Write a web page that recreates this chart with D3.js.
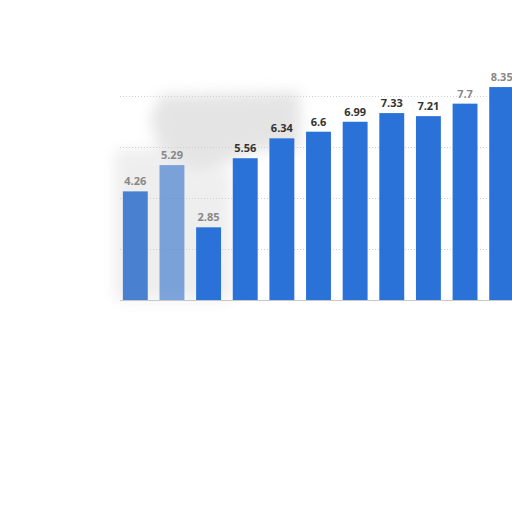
<!DOCTYPE html>
<meta charset="utf-8">
<script src="https://d3js.org/d3.v7.min.js"></script>
<style>
  body { margin: 0; background: #fff; }
</style>
<body>
<div id="chart"></div>
<script>
  // data (categories are not visible in the crop)
  var categories = ["2010", "2011", "2012", "2013", "2014", "2015", "2016", "2017", "2018", "2019", "2020"];
  var values = [4.26, 5.29, 2.85, 5.56, 6.34, 6.6, 6.99, 7.33, 7.21, 7.7, 8.35];
  var labels = ["4.26", "5.29", "2.85", "5.56", "6.34", "6.6", "6.99", "7.33", "7.21", "7.7", "8.35"];
  var gridTicks = [2, 4, 6, 8];

  var W = 512, H = 512;

  var svg = d3.select("#chart")
    .append("svg")
    .attr("width", W)
    .attr("height", H);

  var defs = svg.append("defs");
  defs.append("filter").attr("id", "blur")
    .attr("x", "-50%").attr("y", "-50%").attr("width", "200%").attr("height", "200%")
    .append("feGaussianBlur").attr("stdDeviation", 7);

  // scales
  var x = d3.scaleBand()
    .domain(categories)
    .range([117, 520])
    .paddingInner(0.32)
    .paddingOuter(0.16);

  var y = d3.scaleLinear()
    .domain([0, 10])
    .range([300, 45]);

  // smudged grey background left over in the crop
  var smudge = svg.append("g").attr("filter", "url(#blur)").attr("opacity", 0.4);
  smudge.append("path")
    .attr("d", "M160,95 L300,92 L300,150 L260,150 L230,160 L200,175 L160,150 L150,120 Z")
    .attr("fill", "#bdbdbd");
  smudge.append("path")
    .attr("d", "M115,150 L160,148 L200,178 L230,165 L232,300 L115,300 Z")
    .attr("fill", "#d6d6d6");

  // gridlines
  svg.append("g")
    .selectAll("line")
    .data(gridTicks)
    .enter()
    .append("line")
    .attr("x1", 120)
    .attr("x2", W)
    .attr("y1", function(d) { return Math.round(y(d)) + 0.5; })
    .attr("y2", function(d) { return Math.round(y(d)) + 0.5; })
    .attr("stroke", "#d0d0d0")
    .attr("stroke-dasharray", "1,2");

  // bars
  svg.append("g")
    .selectAll("rect")
    .data(values)
    .enter()
    .append("rect")
    .attr("x", function(d, i) { return x(categories[i]); })
    .attr("width", x.bandwidth())
    .attr("y", function(d) { return y(d); })
    .attr("height", function(d) { return y(0) - y(d); })
    .attr("fill", function(d, i) { return i < 2 ? "#4a80d0" : "#2a72d8"; })
    .attr("opacity", function(d, i) { return i == 1 ? 0.7 : 1; });

  // baseline
  svg.append("line")
    .attr("x1", 120).attr("x2", W)
    .attr("y1", 300.5).attr("y2", 300.5)
    .attr("stroke", "#c8c8c8");

  // value labels
  svg.append("g")
    .selectAll("text")
    .data(values)
    .enter()
    .append("text")
    .attr("x", function(d, i) { return x(categories[i]) + x.bandwidth() / 2; })
    .attr("y", function(d) { return y(d) - 6; })
    .attr("text-anchor", "middle")
    .style("font-family", "'Open Sans', 'DejaVu Sans', sans-serif")
    .style("font-size", "11px")
    .style("font-weight", "bold")
    .style("fill", function(d, i) { return (i < 3 || i > 8) ? "#888" : "#333"; })
    .text(function(d, i) { return labels[i]; });
</script>
</body>
